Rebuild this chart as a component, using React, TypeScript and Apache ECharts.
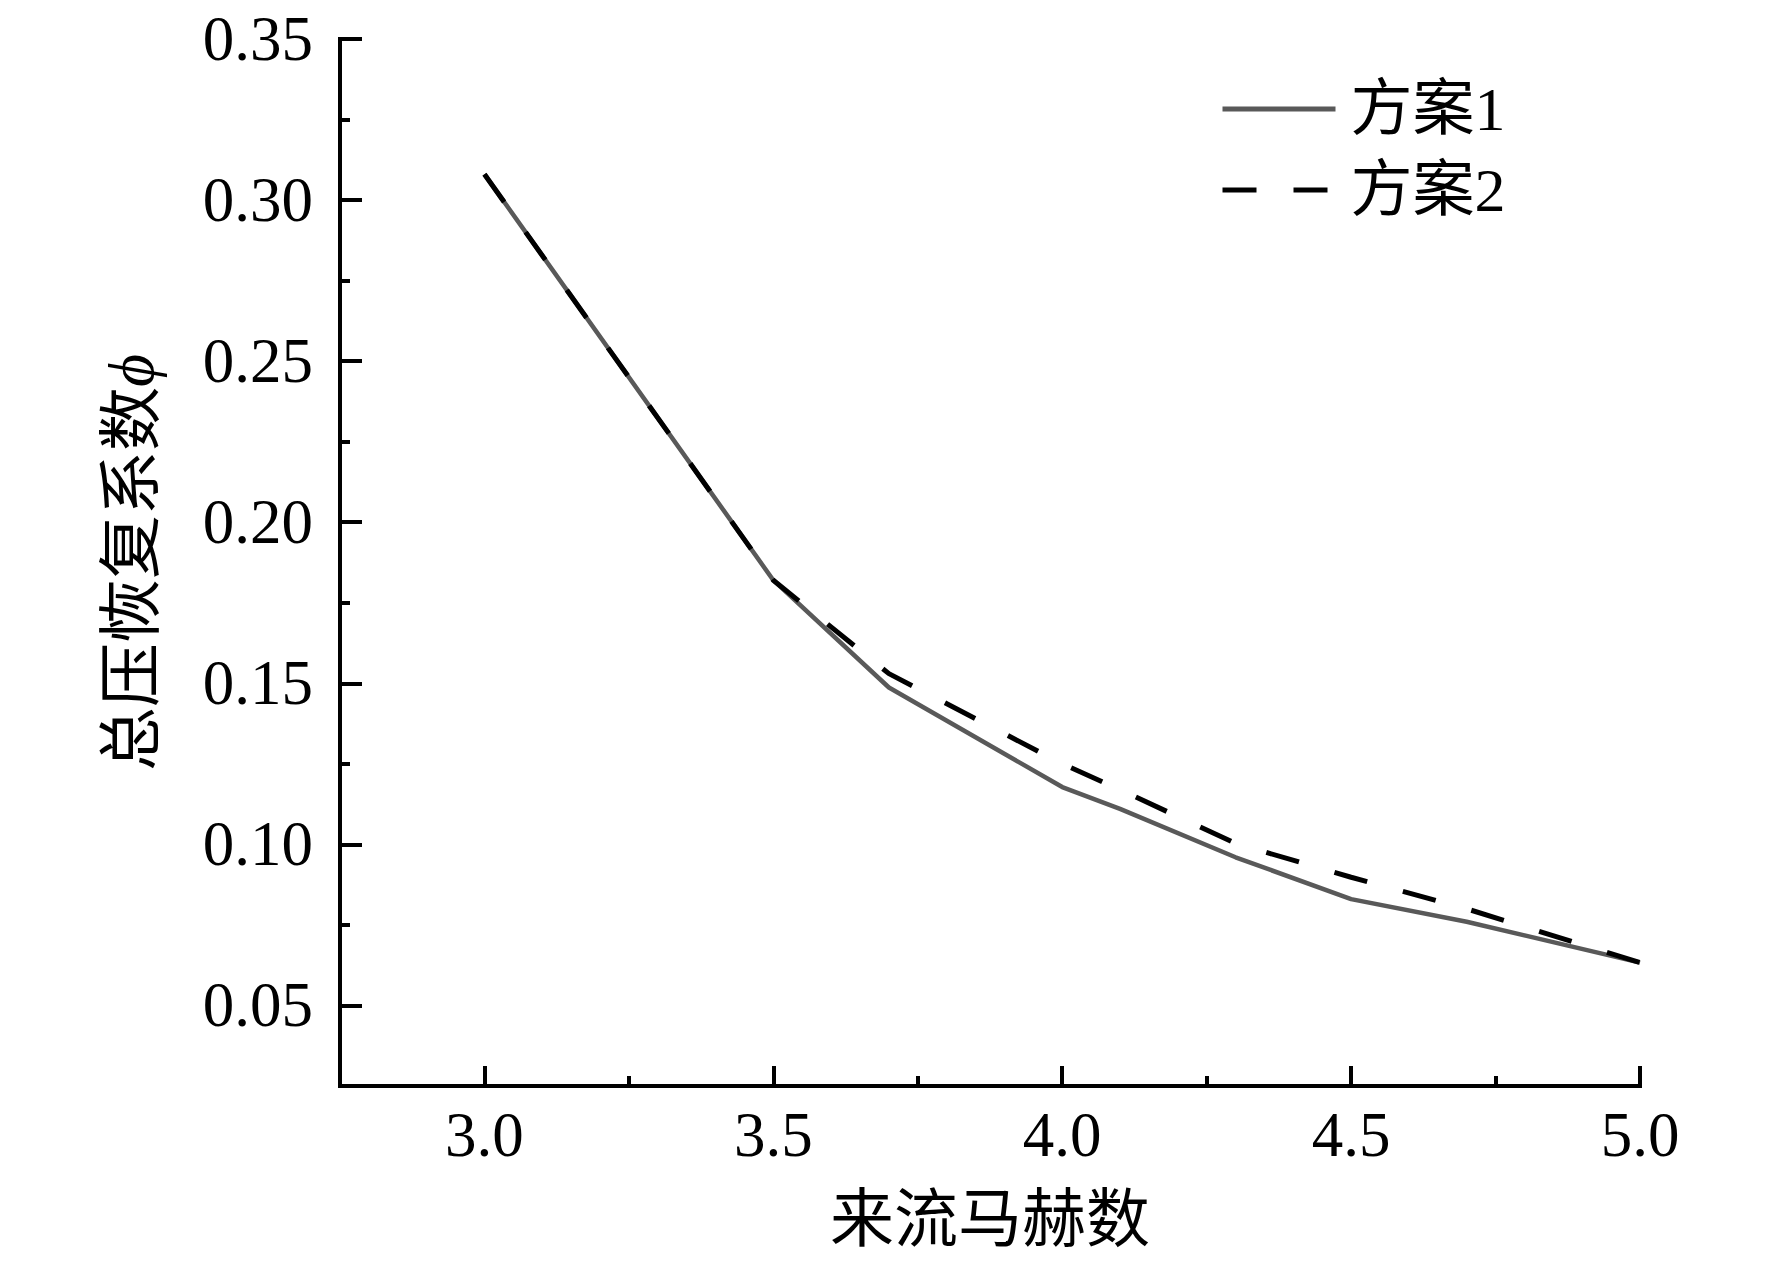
import React, { useEffect, useRef } from "react";
import * as echarts from "echarts";

// Data
const machNumbers = [3.0, 3.5, 3.7, 4.0, 4.1, 4.3, 4.5, 4.7, 5.0];
const scheme1 = [0.308, 0.182, 0.1487, 0.1178, 0.111, 0.096, 0.083, 0.076, 0.0633];
const scheme2 = [0.308, 0.182, 0.153, 0.125, 0.117, 0.1003, 0.0898, 0.08, 0.0633];
const seriesNames = ["方案1", "方案2"];
const xAxisTitle = "来流马赫数";
const yAxisTitle = "总压恢复系数";
const yAxisSymbol = "ϕ";

const FONT = "'Liberation Serif', 'Noto Sans CJK SC', serif";
const COLOR1 = "#595959";
const COLOR2 = "#000000";
const DASH = [34, 37];

export default function App() {
  const ref = useRef<HTMLDivElement>(null);

  useEffect(() => {
    if (!ref.current) return;
    const chart = echarts.init(ref.current, undefined, { renderer: "svg" });

    const pairs = (ys: number[]) => machNumbers.map((x, i) => [x, ys[i]]);

    const axisLine = {
      show: true,
      lineStyle: { color: "#000", width: 4, cap: "square" },
    };

    const option = {
      animation: false,
      backgroundColor: "#fff",
      textStyle: { fontFamily: FONT, color: "#000" },
      grid: { left: 340, right: 132, top: 39, bottom: 177, containLabel: false },
      legend: {
        data: [
          {
            name: seriesNames[0],
            itemStyle: { opacity: 0 },
            lineStyle: { color: COLOR1, width: 5, type: "solid" },
          },
          {
            name: seriesNames[1],
            itemStyle: { opacity: 0 },
            lineStyle: { color: COLOR2, width: 5, type: DASH },
          },
        ],
        orient: "vertical",
        left: 1220,
        top: 78,
        padding: 0,
        itemWidth: 113,
        itemHeight: 8,
        itemGap: 19,
        textStyle: {
          fontFamily: FONT,
          fontSize: 62,
          lineHeight: 62,
          color: "#000",
          padding: [0, 0, 0, 10],
        },
      },
      xAxis: [
        {
          type: "value",
          position: "bottom",
          min: 2.75,
          max: 5,
          splitNumber: 5,
          name: xAxisTitle,
          nameLocation: "middle",
          nameGap: 101,
          nameTextStyle: { fontFamily: FONT, fontSize: 64, color: "#000" },
          axisLine,
          axisTick: { show: true, inside: true, length: 20, lineStyle: { color: "#000", width: 4 } },
          axisLabel: {
            show: true,
            margin: 17,
            fontFamily: FONT,
            fontSize: 63,
            color: "#000",
            showMinLabel: false,
            formatter: (v: number) => (v < 2.9 ? "" : v.toFixed(1)),
          },
          splitLine: { show: false },
        },
        {
          type: "value",
          position: "bottom",
          min: 2.75,
          max: 5,
          interval: 0.25,
          axisLine: { show: false },
          axisTick: { show: true, inside: true, length: 10, lineStyle: { color: "#000", width: 4 } },
          axisLabel: { show: false },
          splitLine: { show: false },
        },
      ],
      yAxis: [
        {
          type: "value",
          position: "left",
          min: 0.025,
          max: 0.35,
          splitNumber: 7,
          name: yAxisTitle + "{i|" + yAxisSymbol + "}",
          nameLocation: "middle",
          nameGap: 177,
          nameTextStyle: {
            fontFamily: FONT,
            fontSize: 64,
            color: "#000",
            rich: {
              i: { fontFamily: "'Liberation Serif', serif", fontStyle: "italic", fontSize: 64, color: "#000" },
            },
          },
          axisLine,
          axisTick: { show: true, inside: true, length: 22, lineStyle: { color: "#000", width: 4 } },
          axisLabel: {
            show: true,
            margin: 27,
            fontFamily: FONT,
            fontSize: 63,
            color: "#000",
            showMinLabel: false,
            formatter: (v: number) => (v < 0.04 ? "" : v.toFixed(2)),
          },
          splitLine: { show: false },
        },
        {
          type: "value",
          position: "left",
          min: 0.025,
          max: 0.35,
          interval: 0.025,
          axisLine: { show: false },
          axisTick: { show: true, inside: true, length: 10, lineStyle: { color: "#000", width: 4 } },
          axisLabel: { show: false },
          splitLine: { show: false },
        },
      ],
      series: [
        {
          name: seriesNames[0],
          type: "line",
          xAxisIndex: 0,
          yAxisIndex: 0,
          data: pairs(scheme1),
          symbol: "none",
          color: COLOR1,
          lineStyle: { color: COLOR1, width: 4.5, type: "solid" },
          z: 2,
        },
        {
          name: seriesNames[1],
          type: "line",
          xAxisIndex: 0,
          yAxisIndex: 0,
          data: pairs(scheme2),
          symbol: "none",
          color: COLOR2,
          lineStyle: { color: COLOR2, width: 5, type: DASH },
          z: 3,
        },
      ],
    };

    chart.setOption(option as any);
    return () => chart.dispose();
  }, []);

  return (
    <div
      ref={ref}
      style={{ position: "absolute", left: 0, top: 0, width: 1772, height: 1263 }}
    />
  );
}
